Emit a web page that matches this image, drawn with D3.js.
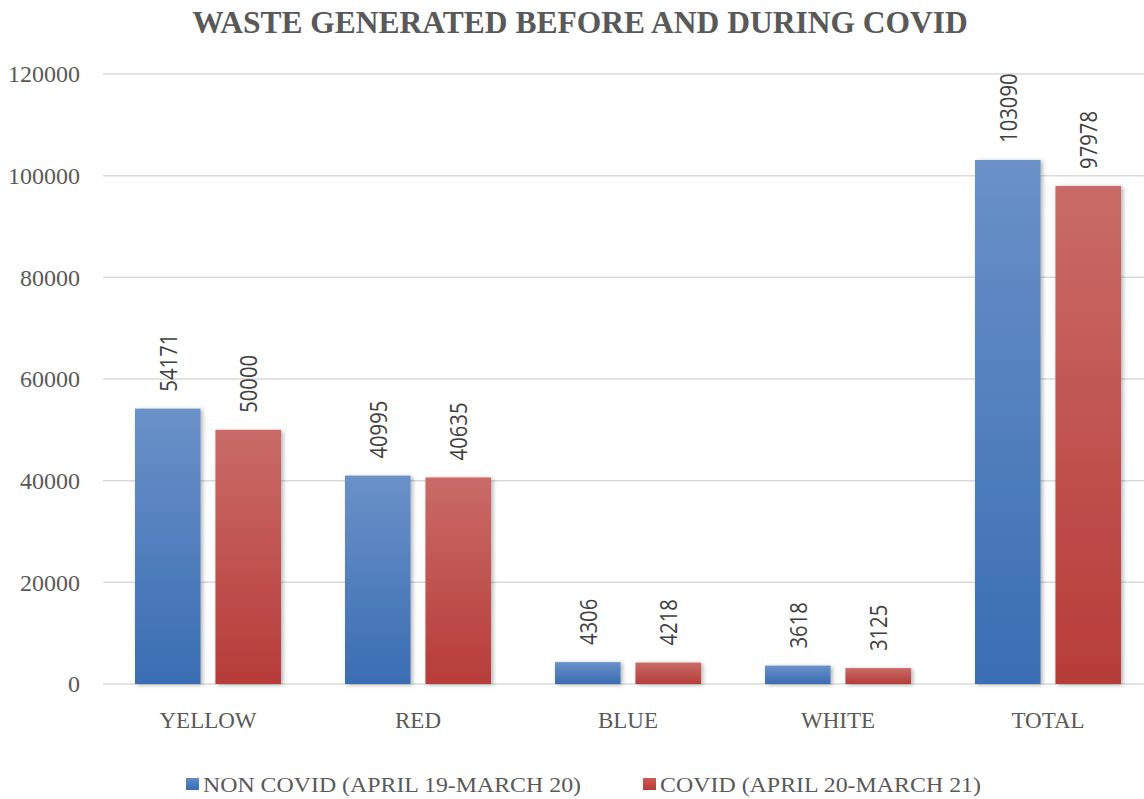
<!DOCTYPE html>
<html>
<head>
<meta charset="utf-8">
<script src="https://cdn.jsdelivr.net/npm/d3@7"></script>
<style>
  html, body { margin: 0; padding: 0; background: #fff; }
  svg { display: block; }
</style>
</head>
<body>
<svg id="chart" width="1144" height="799"></svg>
<script>
// Waste generated (kg) by category, before and during COVID
const categories = ["YELLOW", "RED", "BLUE", "WHITE", "TOTAL"];
const nonCovid = [54171, 40995, 4306, 3618, 103090];
const covid = [50000, 40635, 4218, 3125, 97978];
const seriesNames = ["NON COVID (APRIL 19-MARCH 20)", "COVID (APRIL 20-MARCH 21)"];
const yTicks = [0, 20000, 40000, 60000, 80000, 100000, 120000];

const svg = d3.select("#chart");
const W = 1144, H = 799;
const plot = { left: 103, right: 1153, top: 74, bottom: 684 };
const serif = "'Liberation Serif', 'Times New Roman', serif";

const x = d3.scaleBand().domain(categories).range([plot.left, plot.right]);
const x1 = d3.scaleBand().domain([0, 1]).range([32, 178]).paddingInner(0.185);
const y = d3.scaleLinear().domain([0, 120000]).range([plot.bottom, plot.top]);

const defs = svg.append("defs");
function grad(id, top, bottom) {
  const g = defs.append("linearGradient").attr("id", id)
    .attr("x1", 0).attr("y1", 0).attr("x2", 0).attr("y2", 1);
  g.append("stop").attr("offset", "0%").attr("stop-color", top);
  g.append("stop").attr("offset", "100%").attr("stop-color", bottom);
}
grad("gBlue", "#6a91c8", "#3a6db3");
grad("gRed", "#c96b67", "#b73c39");
grad("lBlue", "#5f8bcb", "#3a6db3");
grad("lRed", "#d05a56", "#b73c39");
const f = defs.append("filter").attr("id", "shadow")
  .attr("x", "-20%").attr("y", "-20%").attr("width", "150%").attr("height", "140%");
f.append("feDropShadow").attr("dx", 2).attr("dy", 1).attr("stdDeviation", 2)
  .attr("flood-color", "#000").attr("flood-opacity", 0.3);

// Title
svg.append("text")
  .attr("x", 580).attr("y", 33)
  .attr("text-anchor", "middle")
  .attr("font-family", serif)
  .attr("font-weight", "bold")
  .attr("font-size", 31.5)
  .attr("fill", "#595959")
  .text("WASTE GENERATED BEFORE AND DURING COVID");

// Gridlines
svg.append("g").selectAll("line").data(yTicks).join("line")
  .attr("x1", plot.left).attr("x2", W)
  .attr("y1", d => y(d)).attr("y2", d => y(d))
  .attr("stroke", "#d9d9d9").attr("stroke-width", 1.5);

// Y axis labels
const yAxis = d3.axisLeft(y).tickValues(yTicks).tickSize(0).tickPadding(0).tickFormat(d3.format("d"));
const ya = svg.append("g").attr("transform", "translate(80,0)").call(yAxis)
  .attr("font-family", serif);
ya.select(".domain").remove();
ya.selectAll("text")
  .attr("font-size", 24).attr("fill", "#595959").attr("dy", "0.33em");

// X axis labels
const xAxis = d3.axisBottom(x).tickSize(0).tickPadding(0);
const xa = svg.append("g").attr("transform", `translate(0,${plot.bottom + 44})`).call(xAxis)
  .attr("font-family", serif);
xa.select(".domain").remove();
xa.selectAll("text")
  .attr("font-size", 23).attr("fill", "#595959").attr("dy", 0);

// Bars with rotated value labels (narrow digits, ~11.6px per glyph)
const series = [nonCovid, covid];
const fills = ["url(#gBlue)", "url(#gRed)"];
series.forEach((vals, si) => {
  const g = svg.append("g");
  g.selectAll("rect").data(vals).join("rect")
    .attr("x", (d, i) => x(categories[i]) + x1(si))
    .attr("width", x1.bandwidth())
    .attr("y", d => y(d))
    .attr("height", d => y(0) - y(d))
    .attr("fill", fills[si])
    .attr("filter", "url(#shadow)");
  g.selectAll("text").data(vals).join("text")
    .attr("transform", (d, i) => {
      const cx = x(categories[i]) + x1(si) + x1.bandwidth() / 2;
      return `translate(${cx + 9},${y(d) - 17}) rotate(-90)`;
    })
    .attr("font-family", "'Open Sans', 'DejaVu Sans', sans-serif")
    .attr("font-size", 24)
    .attr("fill", "#404040")
    .attr("textLength", d => String(d).length * 11.6)
    .attr("lengthAdjust", "spacingAndGlyphs")
    .text(d => d);
});

// Legend
const legend = svg.append("g").attr("font-family", serif);
const legendX = [186, 643];
const legendW = [378, 321];
const legendFills = ["url(#lBlue)", "url(#lRed)"];
seriesNames.forEach((name, i) => {
  legend.append("rect")
    .attr("x", legendX[i]).attr("y", 778)
    .attr("width", 13).attr("height", 12)
    .attr("fill", legendFills[i]);
  legend.append("text")
    .attr("x", legendX[i] + 17).attr("y", 792)
    .attr("font-size", 21).attr("fill", "#595959")
    .attr("textLength", legendW[i])
    .attr("lengthAdjust", "spacingAndGlyphs")
    .text(name);
});
</script>
</body>
</html>
